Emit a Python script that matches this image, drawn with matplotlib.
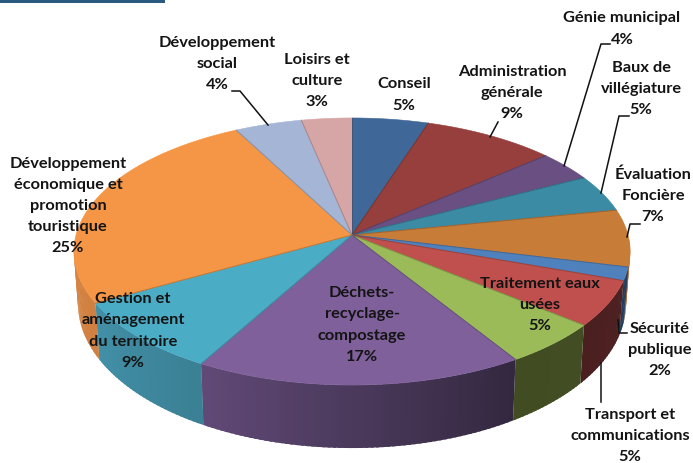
import numpy as np
import matplotlib
matplotlib.use("Agg")
import matplotlib.pyplot as plt
from matplotlib.colors import to_rgb

plt.rcParams['font.family'] = ['Lato', 'DejaVu Sans']

# slices, clockwise from 12 o'clock
names = ["Conseil", "Administration\ngénérale", "Génie municipal", "Baux de\nvillégiature",
         "Évaluation\nFoncière", "Sécurité\npublique", "Transport et\ncommunications",
         "Traitement eaux\nusées", "Déchets-\nrecyclage-\ncompostage", "Gestion et\naménagement\ndu territoire",
         "Développement\néconomique et\npromotion\ntouristique", "Développement\nsocial", "Loisirs et\nculture"]
values = [5.0, 8.7, 3.7, 4.5, 6.9, 1.6, 5.5, 5.2, 17.0, 8.8, 25.4, 4.4, 3.3]
pct_labels = [5, 9, 4, 5, 7, 2, 5, 5, 17, 9, 25, 4, 3]

colors = ["#3f6797", "#963f3c", "#6a4f82", "#3b8ba5", "#c77c38", "#4f81bd", "#c0504d",
          "#9bbb59", "#7f609b", "#4bacc6", "#f49645", "#a5b5d5", "#d6a6a6"]
wall_a = ["#2a4565", "#642a28", "#463556", "#275c6e", "#b06a30", "#1f3a5a", "#4f2222",
          "#434d24", "#33283f", "#3b8095", "#d08040", "#6e7a90", "#8f6f6f"]
wall_b = ["#2a4565", "#642a28", "#463556", "#275c6e", "#b06a30", "#1f3a5a", "#4a1f1f",
          "#414c22", "#624a78", "#4290a8", "#d68443", "#6e7a90", "#8f6f6f"]

# label centres in pixels
label_pos = [(404, 95), (512, 93), (622, 29), (641, 89), (653, 196), (660, 350), (630, 436),
             (540, 305), (362, 325), (133, 331), (68, 206), (217, 64), (317, 81)]

leaders = [[(232, 91), (240, 91), (268, 125)],
           [(498, 122), (490, 137)],
           [(610, 44), (601, 44), (564, 166)],
           [(629, 116), (619, 116), (601, 193)],
           [(640, 224), (630, 224), (627, 237)],
           [(627, 333), (619, 333), (618, 320)],
           [(601, 363), (601, 402)]]

cx, cy = 352, 235
a, b, k = 276, 131.5, 0.1236


def top_xy(ang):
    # ang in degrees clockwise from top, perspective squash of a circle
    t = np.radians(ang)
    u, v = np.sin(t), np.cos(t)
    w = 1 + k * v
    return cx + a * u / w, cy - b * v / w


def low_xy(ang):
    x, y = top_xy(ang)
    return cx + (x - cx) * 0.985, y + 51 + 0.08 * (y - cy)


fig = plt.figure(figsize=(6.93, 4.63), dpi=100)
ax = fig.add_axes([0, 0, 1, 1])
ax.set_xlim(0, 693)
ax.set_ylim(463, 0)
ax.axis('off')

ax.fill([0, 165, 165, 0], [0, 0, 3, 3], color="#2a5a7e", lw=0)

edges = np.concatenate([[0], np.cumsum(values)]) / sum(values) * 360

# side wall, only the front part shows
for i in range(len(values)):
    start, end = max(edges[i], 92), min(edges[i + 1], 268)
    if end <= start:
        continue
    steps = np.arange(start, end + 1, 1.0)
    steps[-1] = end
    c0, c1 = np.array(to_rgb(wall_a[i])), np.array(to_rgb(wall_b[i]))
    for j in range(len(steps) - 1):
        f = (steps[j] - start) / (end - start)
        # overlap into the next step so no seams show
        pair = np.array([steps[j], min(steps[j + 1] + 0.6, end)])
        x1, y1 = top_xy(pair)
        x2, y2 = low_xy(pair)
        ax.fill(np.r_[x1, x2[::-1]], np.r_[y1, y2[::-1]], color=c0 + (c1 - c0) * f, lw=0, zorder=2)

# top face
for i in range(len(values)):
    angs = np.linspace(edges[i], edges[i + 1], 60)
    x, y = top_xy(angs)
    ax.fill(np.r_[cx, x], np.r_[cy, y], facecolor=colors[i], edgecolor=colors[i], lw=0.4, zorder=3)
    ex, ey = top_xy(edges[i])
    edge_col = np.array(to_rgb(colors[i])) * 0.7
    ax.plot([cx, ex], [cy, ey], color=edge_col, lw=0.7, alpha=0.7, zorder=4)

for pts in leaders:
    ax.plot([p[0] for p in pts], [p[1] for p in pts], color="#111111", lw=1.1, zorder=5)

for name, pct, pos in zip(names, pct_labels, label_pos):
    ax.text(pos[0], pos[1], f"{name}\n{pct}%", ha='center', va='center', fontsize=11.8,
            fontweight='bold', color="#141414", linespacing=1.65, zorder=6)

fig.savefig("out.png", dpi=100)
